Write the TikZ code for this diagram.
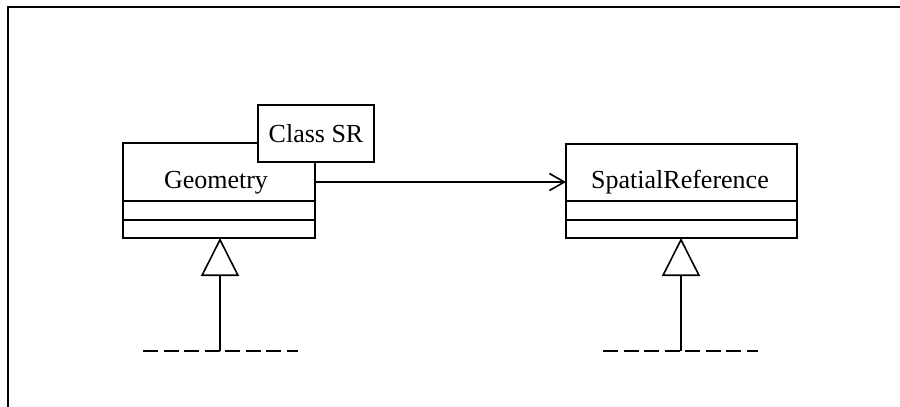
\documentclass[tikz,border=0pt]{standalone}
\usepackage{fontspec}
\setmainfont{Liberation Serif}
\usetikzlibrary{arrows.meta}
\begin{document}
\begin{tikzpicture}[x=1pt,y=-1pt,
  box/.style={draw,line width=1.6pt,fill=white,inner sep=0pt,outer sep=0pt},
  lbl/.style={font=\fontsize{26}{30}\selectfont,inner sep=0pt,anchor=base},
  inherit/.style={line width=1.6pt,-{Triangle[open,length=38pt,width=38pt,line width=1.6pt]}},
  assoc/.style={line width=1.6pt,-{Straight Barb[length=15pt,width=17pt,line width=1.6pt]}},
  dashline/.style={line width=1.6pt,dash pattern=on 15pt off 5.5pt}]
\useasboundingbox (0,0) rectangle (900,407);
\draw[line width=2.4pt] (8,407) -- (8,7) -- (900,7);

% Geometry class
\node[box,minimum width=192pt,minimum height=58pt] (geoName) at (219,172) {};
\node[box,minimum width=192pt,minimum height=19pt] (geoAttr) at (219,210.5) {};
\node[box,minimum width=192pt,minimum height=18pt] (geoOps) at (219,229) {};
\node[lbl] (geoText) at (216,188) {Geometry};

% Class SR note
\node[box,minimum width=116pt,minimum height=57pt] (classSR) at (316,133.5) {};
\node[lbl] (classSRText) at (316,142) {Class SR};

% SpatialReference class
\node[box,minimum width=231pt,minimum height=57pt] (srName) at (681.5,172.5) {};
\node[box,minimum width=231pt,minimum height=19pt] (srAttr) at (681.5,210.5) {};
\node[box,minimum width=231pt,minimum height=18pt] (srOps) at (681.5,229) {};
\node[lbl] (srText) at (680,188) {SpatialReference};

% association
\draw[assoc] (geoName.east |- 0,182) -- (srName.west |- 0,182);

% inheritance stubs
\coordinate (gBase) at (220,351);
\coordinate (sBase) at (681,351);
\draw[inherit] (gBase) -- (gBase |- geoOps.south);
\draw[inherit] (sBase) -- (sBase |- srOps.south);
\coordinate (gL) at (143,351);
\coordinate (gR) at (298,351);
\coordinate (sL) at (603,351);
\coordinate (sR) at (758,351);
\draw[dashline] (gL) -- (gR);
\draw[dashline] (sL) -- (sR);
\end{tikzpicture}
\end{document}
